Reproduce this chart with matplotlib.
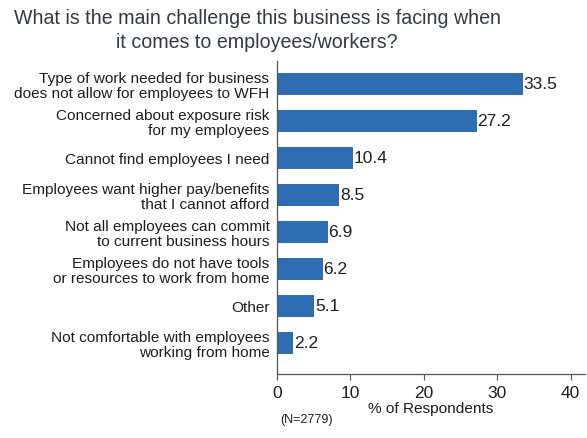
import matplotlib
matplotlib.use('Agg')
import matplotlib.pyplot as plt

plt.rcParams['font.family'] = ['Liberation Sans', 'DejaVu Sans']

categories = [
    'Type of work needed for business\ndoes not allow for employees to WFH',
    'Concerned about exposure risk\nfor my employees',
    'Cannot find employees I need',
    'Employees want higher pay/benefits\nthat I cannot afford',
    'Not all employees can commit\nto current business hours',
    'Employees do not have tools\nor resources to work from home',
    'Other',
    'Not comfortable with employees\nworking from home',
]
values = [33.5, 27.2, 10.4, 8.5, 6.9, 6.2, 5.1, 2.2]
xticks = [0, 10, 20, 30, 40]

bar_color = '#2f6db3'
text_color = '#1e1e1e'

fig = plt.figure(figsize=(5.87, 4.39), dpi=100)
ax = fig.add_axes([0.472, 0.146, 0.525, 0.713])

pos = list(range(len(categories)))
ax.barh(pos, values, height=0.6, color=bar_color)
for p, v in zip(pos, values):
    ax.text(v + 0.1, p, f'{v:.1f}', va='center', ha='left', fontsize=12.5, color=text_color)

ax.set_yticks(pos)
ax.set_yticklabels(categories, fontsize=11.1, color=text_color, linespacing=1.05)
ax.tick_params(axis='y', length=0, pad=5.5)
ax.set_xticks(xticks)
ax.set_xticklabels([str(t) for t in xticks], fontsize=12.5, color=text_color)
ax.tick_params(axis='x', length=4, width=0.8, color='#555555', pad=4)
ax.set_xlim(0, 42)
ax.set_ylim(7.84, -0.62)

for side in ['top', 'right']:
    ax.spines[side].set_visible(False)
for side in ['left', 'bottom']:
    ax.spines[side].set_color('#555555')
    ax.spines[side].set_linewidth(0.9)

ax.set_xlabel('% of Respondents', fontsize=11.1, color=text_color, labelpad=1)

fig.text(0.438, 0.98, 'What is the main challenge this business is facing when\nit comes to employees/workers?',
         ha='center', va='top', fontsize=14.1, color='#333a44', linespacing=1.33)
fig.text(0.477, 0.043, '(N=2779)', ha='left', va='center', fontsize=9, color=text_color)

fig.savefig('out.png', dpi=100)
